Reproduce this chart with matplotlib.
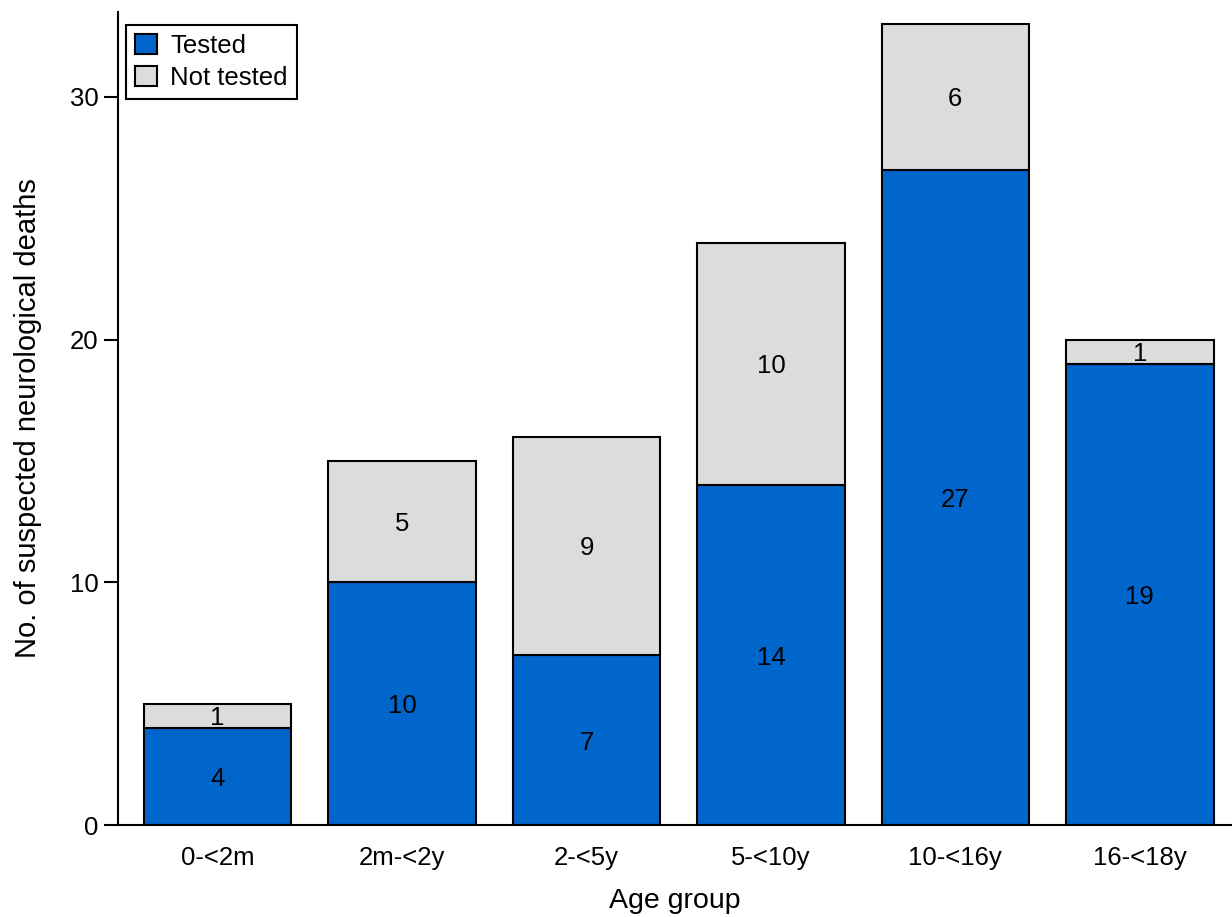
import numpy as np
import matplotlib
matplotlib.use("Agg")
import matplotlib.pyplot as plt

plt.rcParams['font.family'] = ['Liberation Sans', 'DejaVu Sans']

# data
age_groups = ["0-<2m", "2m-<2y", "2-<5y", "5-<10y", "10-<16y", "16-<18y"]
tested = [4, 10, 7, 14, 27, 19]
not_tested = [1, 5, 9, 10, 6, 1]

blue = "#0066cc"
grey = "#dcdcdc"

fig = plt.figure(figsize=(12.32, 9.17), dpi=100)
ax = fig.add_axes([0.0958, 0.1003, 0.9042, 0.8867])

x = np.arange(len(age_groups))
b1 = ax.bar(x, tested, width=0.8, color=blue, edgecolor="black", linewidth=1.5, label="Tested")
b2 = ax.bar(x, not_tested, width=0.8, bottom=tested, color=grey, edgecolor="black",
            linewidth=1.5, label="Not tested")

# numbers in the middle of each segment
for i in range(len(x)):
    ax.text(x[i], tested[i] / 2, str(tested[i]), ha="center", va="center_baseline", fontsize=18.5)
    ax.text(x[i], tested[i] + not_tested[i] / 2, str(not_tested[i]), ha="center",
            va="center_baseline", fontsize=18.5)

ax.set_xlim(-0.54, 5.5)
ax.set_ylim(0, 33.5)
ax.set_yticks([0, 10, 20, 30])
ax.set_xticks(x)
ax.set_xticklabels(age_groups)
ax.tick_params(axis="x", length=0, pad=15, labelsize=18.5)
ax.tick_params(axis="y", length=10, width=1.5, labelsize=18.5, pad=4)
for s in ["top", "right"]:
    ax.spines[s].set_visible(False)
for s in ["left", "bottom"]:
    ax.spines[s].set_linewidth(1.5)

ax.set_xlabel("Age group", fontsize=20.5, labelpad=13)
ax.set_ylabel("No. of suspected neurological deaths", fontsize=21, labelpad=20)

leg = ax.legend(loc="upper left", fontsize=18.5, fancybox=False, framealpha=1,
                edgecolor="black", handlelength=0.85, handleheight=0.85,
                handletextpad=0.5, borderpad=0.35, labelspacing=0.3,
                bbox_to_anchor=(-0.004, 1.0))
leg.get_frame().set_linewidth(1.5)

fig.savefig("out.png", dpi=100)
